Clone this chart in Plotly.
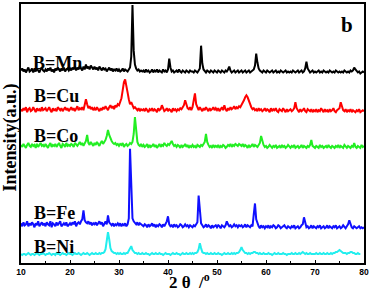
import numpy as np
import plotly.graph_objects as go

# 2-theta sampling grid (degrees)
two_theta = np.round(np.arange(10, 80.001, 0.25), 2)
two_theta_ni = two_theta[two_theta <= 79.25]

sample_names = ["B=Mn", "B=Cu", "B=Co", "B=Fe", "B=Ni"]
stack_offsets = [192, 152, 116, 35, 8]

mn_counts = [
    2,4,1,3,0,3,5,1,2,4,0,3,1,4,2,0,3,5,2,1,
    3,1,4,2,5,1,3,0,4,2,5,3,1,4,2,5,1,3,4,2,
    4,2,5,3,6,2,5,3,7,4,2,6,3,8,4,6,3,7,5,3,
    6,3,5,2,6,4,2,5,3,4,1,3,5,2,4,1,3,2,4,1,
    3,1,2,4,1,3,2,1,3,5,16,68,22,8,4,2,3,1,2,1,
    2,0,3,1,2,0,1,3,0,2,1,3,0,2,1,0,3,1,2,0,
    3,14,5,1,2,0,1,2,0,3,1,0,2,1,0,2,1,0,2,1,
    1,0,2,1,0,2,4,27,9,3,1,0,2,1,0,2,1,0,2,1,
    0,2,1,0,2,1,0,2,1,3,6,2,0,1,2,0,1,2,0,1,
    2,0,1,2,0,1,2,0,1,2,3,7,19,10,4,2,1,0,2,1,
    0,2,1,0,1,2,0,1,2,0,1,0,2,1,0,1,2,0,1,0,
    1,0,2,1,0,1,2,0,1,2,0,1,4,11,4,2,0,1,2,0,
    1,0,1,2,0,1,0,2,1,0,1,0,2,1,0,1,0,2,1,0,
    1,0,1,0,2,1,0,1,0,2,1,2,5,3,1,0,1,-1,0,1,
    0,
]

cu_counts = [
    3,1,4,2,5,0,3,4,1,2,5,3,0,4,2,3,1,5,2,3,
    4,1,3,5,2,0,4,2,3,1,5,3,2,4,1,3,5,2,4,1,
    3,5,2,4,1,3,6,2,4,3,5,2,7,13,8,4,6,3,5,2,
    4,2,5,3,1,4,2,5,3,6,4,2,5,7,4,6,3,7,5,8,
    7,10,14,22,30,33,28,20,13,8,10,6,4,5,3,2,4,1,3,2,
    3,1,4,2,0,3,2,4,1,3,2,0,4,2,3,7,3,1,2,4,
    1,3,2,0,4,2,3,1,3,2,4,3,5,7,12,8,4,3,5,2,
    5,12,19,8,4,2,5,3,1,4,2,5,3,1,4,2,3,5,2,4,
    2,4,1,3,5,2,7,3,1,4,2,5,3,4,6,3,5,4,6,5,
    7,9,12,15,17,15,11,8,5,3,4,2,3,1,4,2,3,1,2,4,
    1,3,2,0,4,1,3,2,4,1,0,3,2,1,4,2,0,3,1,2,
    3,1,2,4,10,4,2,0,3,1,2,4,1,0,3,2,1,3,0,2,
    1,3,0,2,1,4,2,0,3,1,2,0,3,1,2,4,1,0,2,3,
    4,10,5,2,1,3,0,2,1,3,0,2,1,0,2,1,3,0,1,2,
    1,
]

co_counts = [
    3,1,4,2,0,3,5,2,1,4,2,3,0,4,1,3,5,2,3,1,
    4,2,0,3,5,1,3,2,4,1,3,5,2,0,4,3,1,5,2,3,
    2,4,3,1,5,3,2,4,6,3,5,2,4,7,13,5,3,6,4,2,
    5,3,6,4,2,5,7,4,6,8,12,18,13,9,7,5,4,5,3,4,
    2,4,3,5,1,3,4,2,3,5,4,6,14,31,16,6,3,2,4,1,
    3,1,2,4,0,3,1,2,4,1,3,0,2,4,1,3,2,5,3,2,
    4,3,5,7,4,2,3,1,3,2,0,3,1,2,4,1,3,0,2,1,
    3,1,2,0,3,2,1,3,2,4,6,14,6,3,1,2,0,3,1,2,
    1,3,0,2,1,3,2,0,1,3,2,4,1,3,2,4,3,2,4,3,
    2,4,1,3,2,0,3,1,2,4,1,3,2,1,3,5,12,6,3,1,
    2,0,1,3,1,0,2,1,3,0,1,2,0,3,1,2,0,1,3,1,
    0,2,1,3,0,1,2,0,1,3,0,2,1,0,2,1,3,8,2,1,
    0,2,1,0,3,1,2,0,1,2,0,3,1,0,2,1,0,2,1,3,
    0,2,1,0,3,1,0,2,1,0,2,1,5,1,0,2,1,0,3,1,
    2,
]

fe_counts = [
    5,2,6,3,4,7,2,5,3,6,4,1,5,3,7,2,4,6,3,5,
    2,6,4,3,7,1,5,4,2,6,3,5,7,2,4,5,3,6,2,4,
    5,3,6,4,7,2,5,6,4,7,9,18,8,6,5,7,4,6,3,5,
    4,6,3,5,7,4,6,2,5,7,4,13,6,4,3,5,2,4,3,5,
    3,5,2,4,3,5,2,4,10,80,38,10,7,5,4,6,3,5,4,3,
    2,4,3,1,4,2,3,5,2,4,1,3,2,4,3,1,4,2,5,7,
    12,4,2,3,1,4,2,3,1,2,4,3,1,2,4,2,3,1,3,2,
    1,3,2,4,6,33,18,5,3,1,2,4,1,3,2,0,3,1,2,3,
    1,3,2,0,3,2,1,3,7,4,2,3,1,2,4,2,3,1,3,2,
    3,1,2,4,1,3,2,1,3,2,14,25,9,4,2,0,3,1,2,0,
    2,1,3,0,2,1,3,2,0,1,3,2,0,1,2,3,1,0,2,1,
    0,2,1,3,0,1,2,0,1,3,4,11,4,1,2,0,1,3,0,2,
    1,0,2,1,3,0,1,2,0,1,3,0,2,1,0,2,1,3,0,1,
    2,0,1,3,1,0,2,4,8,3,1,0,2,1,0,1,2,0,1,0,
    1,
]

ni_counts = [
    1,0,1,1,0,1,2,1,0,1,1,0,1,2,1,0,1,1,2,1,
    0,1,1,2,1,0,1,1,0,2,1,1,0,1,2,1,1,0,1,2,
    1,1,0,1,2,1,1,2,1,0,1,2,1,1,2,1,0,1,2,1,
    1,2,1,1,2,1,2,2,3,6,14,23,16,7,4,3,2,2,1,2,
    1,2,1,1,2,1,2,2,4,7,9,5,3,2,2,1,2,1,1,2,
    1,1,2,1,1,0,1,2,1,1,2,1,1,2,1,1,0,1,2,1,
    1,1,0,1,2,1,1,2,1,1,0,1,2,1,1,2,1,1,2,1,
    2,1,2,2,3,6,12,7,3,2,2,1,2,1,1,2,1,1,2,1,
    1,2,1,1,0,1,2,1,1,2,1,1,2,1,2,1,2,2,3,5,
    8,5,3,2,2,1,2,1,2,2,3,3,2,2,1,2,1,1,2,1,
    1,1,2,1,1,0,1,2,1,1,2,1,1,1,2,1,1,0,1,1,
    1,2,1,1,2,1,1,2,1,2,3,2,1,2,1,1,2,1,1,1,
    1,2,1,1,2,1,1,2,1,1,2,1,1,2,1,2,2,3,3,4,
    5,4,3,2,2,2,1,2,2,3,3,2,2,1,1,2,1,1,
]

x_tick_values = [10, 20, 30, 40, 50, 60, 70, 80]

series = [
    (two_theta, mn_counts, "#000000", 2.0),
    (two_theta, cu_counts, "#ff0000", 2.0),
    (two_theta, co_counts, "#22ee22", 2.0),
    (two_theta, fe_counts, "#1010ff", 2.0),
    (two_theta_ni, ni_counts, "#22eeee", 2.0),
]

fig = go.Figure()
for (xs, ys, col, lw), off, name in zip(series, stack_offsets, sample_names):
    fig.add_trace(go.Scatter(
        x=xs, y=np.array(ys) + off, mode="lines", name=name,
        line=dict(color=col, width=lw), showlegend=False, hoverinfo="skip",
    ))

serif = "Liberation Serif, Times New Roman, serif"
label_pos = [(12.0, 202), (12.2, 168), (12.2, 128), (12.2, 50), (12.2, 16)]
for (lx, ly), name in zip(label_pos, sample_names):
    fig.add_annotation(x=lx, y=ly, xref="x", yref="y", text=name, showarrow=False,
                       xanchor="left", yanchor="middle",
                       font=dict(family=serif, size=18, color="black", weight="bold"))

fig.add_annotation(x=76.5, y=240, xref="x", yref="y", text="b", showarrow=False,
                   xanchor="center", yanchor="middle",
                   font=dict(family=serif, size=21, color="black", weight="bold"))

fig.add_annotation(x=-0.032, y=0.485, xref="paper", yref="paper", text="Intensity(a.u.)",
                   showarrow=False, textangle=-90, xanchor="center", yanchor="middle",
                   font=dict(family=serif, size=18, color="black", weight="bold"))

fig.add_annotation(x=0.49, y=-0.069, xref="paper", yref="paper", text="2 θ  /<sup>o</sup>",
                   showarrow=False, xanchor="center", yanchor="middle",
                   font=dict(family=serif, size=17, color="black", weight="bold"))

fig.update_layout(
    width=371, height=290,
    margin=dict(l=21, r=5, t=2, b=27),
    paper_bgcolor="white", plot_bgcolor="white",
    xaxis=dict(range=[10, 80], tickvals=x_tick_values, ticks="inside", ticklen=3,
               tickcolor="black", showline=True, linecolor="black", linewidth=1.5,
               mirror=True, showgrid=False, zeroline=False, ticklabeloverflow="allow",
               tickfont=dict(family="Liberation Sans, Arial, sans-serif", size=8.5,
                             color="black", weight="bold"),
               minor=dict(dtick=5, ticks="inside", ticklen=2, tickcolor="black")),
    yaxis=dict(range=[0, 261], showticklabels=False, ticks="", showline=True,
               linecolor="black", linewidth=1.5, mirror=True, showgrid=False,
               zeroline=False),
)

fig.write_html("out.html", config={"displayModeBar": False},
               post_script="document.body.style.margin='0px';document.body.style.overflow='hidden';")
